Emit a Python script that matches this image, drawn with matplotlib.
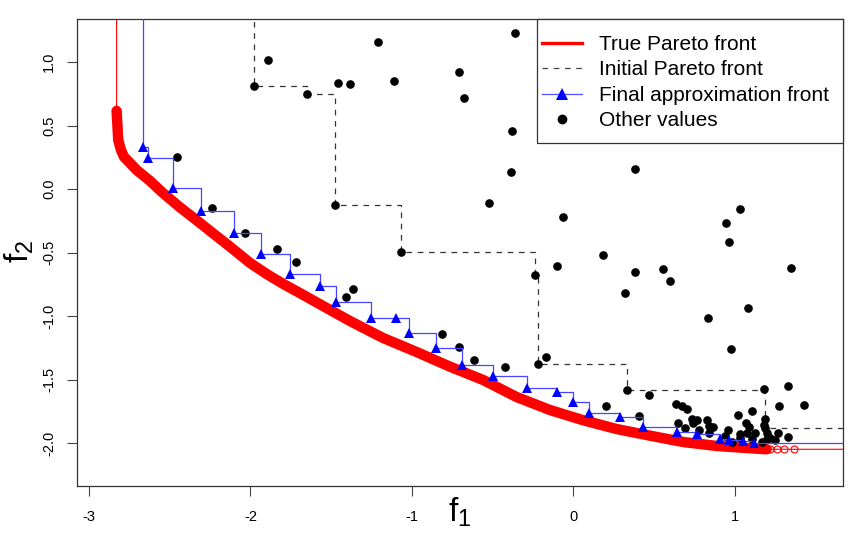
import numpy as np
import matplotlib
matplotlib.use("Agg")
import matplotlib.pyplot as plt
from matplotlib.lines import Line2D
from matplotlib.patches import Rectangle
from matplotlib.ticker import FixedLocator, FixedFormatter

plt.rcParams['font.family'] = ['Liberation Sans', 'DejaVu Sans']
plt.rcParams['mathtext.fontset'] = 'custom'
plt.rcParams['mathtext.rm'] = 'Liberation Sans'
plt.rcParams['mathtext.it'] = 'Liberation Sans'

# ---------------- data ----------------
true_f1 = [-2.829, -2.824, -2.819, -2.802, -2.783, -2.746, -2.705, -2.622, -2.540,
           -2.437, -2.333, -2.232, -2.127, -2.003, -1.900, -1.799, -1.694, -1.590,
           -1.487, -1.384, -1.178, -0.971, -0.765, -0.559, -0.352, -0.146, 0.061,
           0.268, 0.474, 0.680, 0.887, 1.093, 1.196, 1.217, 1.258, 1.303, 1.365]
true_f2 = [0.615, 0.504, 0.386, 0.308, 0.253, 0.205, 0.150, 0.064, -0.033,
           -0.143, -0.246, -0.348, -0.453, -0.581, -0.668, -0.745, -0.818, -0.892,
           -0.965, -1.038, -1.172, -1.282, -1.397, -1.502, -1.636, -1.738, -1.819,
           -1.888, -1.940, -1.990, -2.021, -2.039, -2.047, -2.047, -2.047, -2.047, -2.047]

init_f1 = [-1.977, -1.652, -1.479, -1.068, -0.238, -0.218, 0.333, 1.189]
init_f2 = [0.811, 0.748, -0.127, -0.493, -0.678, -1.378, -1.583, -1.877]

final_f1 = [-2.668, -2.633, -2.478, -2.308, -2.102, -1.932, -1.757, -1.570, -1.472,
            -1.253, -1.097, -1.019, -0.853, -0.690, -0.500, -0.290, -0.104, -0.003,
            0.094, 0.286, 0.432, 0.642, 0.763, 0.905, 0.963, 1.051, 1.116]
final_f2 = [0.334, 0.242, 0.011, -0.172, -0.348, -0.508, -0.672, -0.760, -0.891,
            -1.012, -1.012, -1.135, -1.253, -1.384, -1.471, -1.567, -1.596, -1.677,
            -1.759, -1.795, -1.869, -1.910, -1.928, -1.968, -1.974, -1.980, -1.995]

other_f1 = [-1.890, -1.456, -1.382, -1.209, -1.110, -0.707, -0.676, -0.360, -0.379,
            -0.389, -0.525, -0.067, 0.381, 1.033, 0.946, 0.963, -0.102, 0.185,
            0.383, 0.556, 0.599, 0.321, 1.345, 1.080, 0.831, 0.977,
            -2.457, -2.240, -2.034, -1.834, -1.720, -1.411, -1.367, -0.816, -0.709,
            -0.614, -0.422, -0.168, 0.469, 0.203, 0.407,
            1.330, 1.181, 1.427, 1.274, 1.105, 1.020, 0.637, 0.675, 0.705, 0.732,
            0.763, 0.825, 0.649, 0.742, 0.841, 0.690, 0.866, 1.068, 1.186, 1.180,
            1.089, 0.779, 0.959, 0.841, 1.031, 1.076, 1.124, 1.196, 1.268, 1.330,
            0.938, 1.031, 1.103, 1.217, 1.248, 0.980, 1.165, 1.196]
other_f2 = [1.013, 0.832, 0.827, 1.155, 0.848, 0.924, 0.714, 1.231, 0.459,
            0.132, -0.112, -0.222, 0.156, -0.159, -0.267, -0.419, -0.607, -0.515,
            -0.655, -0.629, -0.727, -0.816, -0.623, -0.935, -1.017, -1.258,
            0.250, -0.151, -0.348, -0.471, -0.576, -0.851, -0.786, -1.142, -1.245,
            -1.345, -1.402, -1.319, -1.620, -1.709, -1.783,
            -1.547, -1.575, -1.701, -1.707, -1.746, -1.777, -1.692, -1.703, -1.732, -1.811,
            -1.817, -1.817, -1.838, -1.843, -1.864, -1.882, -1.874, -1.838, -1.811, -1.856,
            -1.869, -1.895, -1.895, -1.921, -1.927, -1.917, -1.921, -1.921, -1.917, -1.948,
            -1.943, -1.961, -1.969, -1.961, -1.974, -1.987, -1.987, -1.969]

x_ticks = [-3, -2, -1, 0, 1]
x_labels = ['-3', '-2', '-1', '0', '1']
y_ticks = [-2.0, -1.5, -1.0, -0.5, 0.0, 0.5, 1.0]
y_labels = ['-2.0', '-1.5', '-1.0', '-0.5', '0.0', '0.5', '1.0']

legend_labels = ['True Pareto front', 'Initial Pareto front',
                 'Final approximation front', 'Other values']

# ---------------- figure ----------------
W, H = 863, 544
fig = plt.figure(figsize=(W / 100, H / 100), dpi=100)
AX_L, AX_R, AX_T, AX_B = 76.7, 843.3, 19.0, 486.0
ax = fig.add_axes([AX_L / W, 1 - AX_B / H, (AX_R - AX_L) / W, (AX_B - AX_T) / H])
XL = (-3.076, 1.671)
YL = (-2.336, 1.338)
ax.set_xlim(*XL)
ax.set_ylim(*YL)

BIG = 100.0

def stepped(fx, fy):
    xs = np.concatenate([[fx[0]], fx, [BIG]])
    ys = np.concatenate([[BIG], fy, [fy[-1]]])
    return xs, ys

tf1 = np.array(true_f1); tf2 = np.array(true_f2)
if1 = np.array(init_f1); if2 = np.array(init_f2)
ff1 = np.array(final_f1); ff2 = np.array(final_f2)

# true front: thin line extended to the borders, thick band, open circles
xs, ys = stepped(tf1, tf2)
ax.plot(xs, ys, color='red', lw=0.8, zorder=2)
band = tf1 <= 1.2
ax.plot(tf1[band], tf2[band], color='red', lw=7.5, solid_capstyle='round',
        solid_joinstyle='round', zorder=2)
ax.plot(tf1, tf2, ls='none', marker='o', ms=5, mfc='none', mec='red', mew=0.8, zorder=2)

# initial front
xs, ys = stepped(if1, if2)
ax.plot(xs, ys, drawstyle='steps-post', color='#333333', lw=0.9,
        dashes=(4.5, 4.5), zorder=3)

# other values
ax.plot(other_f1, other_f2, ls='none', marker='o', ms=5.2, color='black', zorder=4)
ax.plot(init_f1, init_f2, ls='none', marker='o', ms=5.2, color='black', zorder=4)

# final approximation front
xs, ys = stepped(ff1, ff2)
ax.plot(xs, ys, drawstyle='steps-post', color='#4646ff', lw=0.9, zorder=5)
ax.plot(ff1, ff2, ls='none', marker='^', ms=7, color='blue', mew=0, zorder=6)

# axes style (R-like)
for s in ax.spines.values():
    s.set_linewidth(0.9)
    s.set_color('#333333')
ax.xaxis.set_major_locator(FixedLocator(x_ticks))
ax.xaxis.set_major_formatter(FixedFormatter(x_labels))
ax.yaxis.set_major_locator(FixedLocator(y_ticks))
ax.yaxis.set_major_formatter(FixedFormatter(y_labels))
ax.tick_params(axis='both', direction='out', length=7.2, width=0.8, color='#444444',
               labelsize=10.5, labelcolor='black')
ax.tick_params(axis='x', pad=10)
ax.tick_params(axis='y', pad=7.5)
for lab in ax.get_yticklabels():
    lab.set_rotation(90)
    lab.set_va('center')

fig.text(460 / W, 1 - 521.7 / H, r'$\mathrm{f}_{1}$', fontsize=24,
         ha='center', va='baseline')
fig.text(29 / W, 1 - 251 / H, r'$\mathrm{f}_{2}$', fontsize=24, rotation=90,
         rotation_mode='anchor', ha='center', va='baseline')

# legend: frame box drawn as a rectangle, entries via ax.legend
def ax_x(px):
    return (px - AX_L) / (AX_R - AX_L)

def ax_y(py):
    return (AX_B - py) / (AX_B - AX_T)

frame = Rectangle((ax_x(537.3), ax_y(143.3)), 1 - ax_x(537.3), 1 - ax_y(143.3),
                  transform=ax.transAxes, facecolor='white', edgecolor='#333333',
                  lw=0.9, zorder=8, clip_on=False)
ax.add_patch(frame)

handles = [
    Line2D([], [], color='red', lw=2.4),
    Line2D([], [], color='#444444', lw=0.9, dashes=(4.5, 4.5)),
    Line2D([], [], color='#5050ff', lw=0.9, marker='^', ms=8, mfc='blue', mec='blue', mew=0),
    Line2D([], [], ls='none', marker='o', ms=6, color='black'),
]
leg = ax.legend(handles, legend_labels, loc='upper left',
                bbox_to_anchor=(ax_x(541.7), ax_y(35.0)),
                borderaxespad=0, fontsize=15, frameon=False,
                borderpad=0, labelspacing=0.31, handlelength=1.92,
                handletextpad=0.84)
leg.set_zorder(9)

fig.savefig('out.png', dpi=100)
